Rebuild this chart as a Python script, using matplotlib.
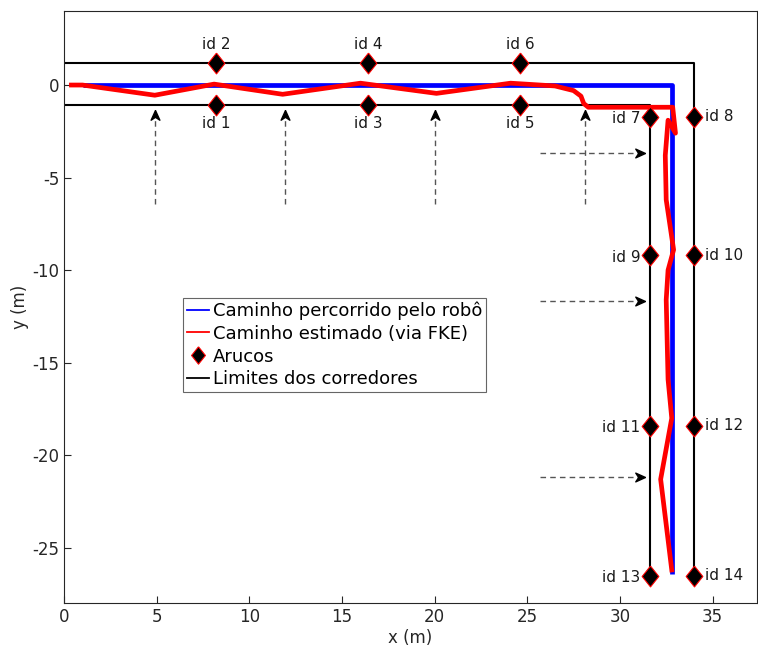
import numpy as np
import matplotlib
matplotlib.use('Agg')
import matplotlib.pyplot as plt
from matplotlib.lines import Line2D

plt.rcParams['font.family'] = ['DejaVu Sans']
plt.rcParams['axes.unicode_minus'] = False

# caminho real (azul)
real_x = [1.0, 32.8, 32.8]
real_y = [0.0, 0.0, -26.4]

# caminho estimado via FKE (vermelho)
est_x = [0.4, 1.0, 4.9, 8.1, 11.8, 16.0, 20.1, 24.1, 26.5, 27.5, 27.9, 28.05, 28.3,
         32.85, 33.0, 32.6, 32.45, 32.5, 32.9, 32.6, 32.5, 32.6, 32.8, 32.2, 32.8]
est_y = [0.0, 0.0, -0.55, 0.05, -0.5, 0.1, -0.45, 0.1, -0.05, -0.3, -0.6, -1.0, -1.2,
         -1.2, -2.6, -1.9, -3.8, -6.2, -8.9, -10.0, -11.6, -15.9, -18.0, -21.3, -26.2]

# limites dos corredores
outer_x = [0, 34.0, 34.0]
outer_y = [1.2, 1.2, -26.5]
inner_x = [0, 31.6, 31.6]
inner_y = [-1.1, -1.1, -26.5]

# arucos
aruco_id = [1, 2, 3, 4, 5, 6, 7, 8, 9, 10, 11, 12, 13, 14]
aruco_x = [8.2, 8.2, 16.4, 16.4, 24.6, 24.6, 31.6, 34.0, 31.6, 34.0, 31.6, 34.0, 31.6, 34.0]
aruco_y = [-1.1, 1.2, -1.1, 1.2, -1.1, 1.2, -1.7, -1.7, -9.2, -9.2, -18.4, -18.4, -26.5, -26.5]

# setas tracejadas
up_x = [4.9, 11.9, 20.0, 28.1]
up_y0, up_y1 = -6.45, -1.35
right_y = [-3.65, -11.65, -21.2]
right_x0, right_x1 = 25.7, 31.35

fig = plt.figure(figsize=(7.58, 6.48), dpi=100)
ax = fig.add_axes([64 / 758, 1 - 603.3 / 648, 693 / 758, 592.3 / 648])

ax.plot(real_x, real_y, color='#0000ff', lw=3.4, solid_capstyle='butt', zorder=3)
ax.plot(est_x, est_y, color='#ff0000', lw=3.4, solid_joinstyle='round', zorder=4)
ax.plot(outer_x, outer_y, color='k', lw=1.5, zorder=2)
ax.plot(inner_x, inner_y, color='k', lw=1.5, zorder=2)

dmd = [(0, 1), (0.8, 0), (0, -1), (-0.8, 0), (0, 1)]
ax.plot(aruco_x, aruco_y, ls='none', marker=dmd, markersize=15,
        markerfacecolor='k', markeredgecolor='#ff0000', markeredgewidth=0.8, zorder=5)

for i, x, y in zip(aruco_id, aruco_x, aruco_y):
    if x < 30:
        if y > 0:
            off, ha, va = (0, 13), 'center', 'center'
        else:
            off, ha, va = (0, -13), 'center', 'center'
    elif x < 33:
        off, ha, va = (-6.5, -1.5), 'right', 'center'
    else:
        off, ha, va = (8, 0), 'left', 'center'
    ax.annotate('id %d' % i, (x, y), xytext=off, textcoords='offset points',
                ha=ha, va=va, fontsize=11, color='#1a1a1a', zorder=6)

head_r = [(0, 0), (-1, 0.45), (-0.7, 0), (-1, -0.45), (0, 0)]
head_u = [(0, 0), (0.45, -1), (0, -0.7), (-0.45, -1), (0, 0)]
for x in up_x:
    ax.plot([x, x], [up_y0, up_y1 - 0.3], color='#555555', lw=1.0, ls=(0, (4, 3)), zorder=2)
    ax.plot([x], [up_y1], ls='none', marker=head_u, markersize=14,
            color='k', zorder=3)
for y in right_y:
    ax.plot([right_x0, right_x1 - 0.3], [y, y], color='#555555', lw=1.0, ls=(0, (4, 3)), zorder=2)
    ax.plot([right_x1], [y], ls='none', marker=head_r, markersize=14,
            color='k', zorder=3)

ax.set_xlim(0, 37.4)
ax.set_ylim(-28, 4)
ax.set_xticks(np.arange(0, 36, 5))
ax.set_yticks(np.arange(-25, 1, 5))
ax.tick_params(direction='in', length=5, width=0.8, labelsize=12, colors='#262626',
               top=False, right=False)
for s in ax.spines.values():
    s.set_color('#262626')
    s.set_linewidth(0.8)
ax.set_xlabel('x (m)', fontsize=12, color='#262626', labelpad=2)
ax.set_ylabel('y (m)', fontsize=12, color='#262626', labelpad=2)

handles = [
    Line2D([], [], color='#0000ff', lw=1.3),
    Line2D([], [], color='#ff0000', lw=1.3),
    Line2D([], [], ls='none', marker=dmd, markersize=12.5, markerfacecolor='k',
           markeredgecolor='#ff0000', markeredgewidth=0.8),
    Line2D([], [], color='k', lw=1.3),
]
labels = ['Caminho percorrido pelo robô', 'Caminho estimado (via FKE)',
          'Arucos', 'Limites dos corredores']
leg = ax.legend(handles, labels, loc='upper left', bbox_to_anchor=(183 / 758, 1 - 298 / 648),
                bbox_transform=fig.transFigure, borderaxespad=0, fontsize=13,
                handlelength=1.25, handletextpad=0.2, labelspacing=0.26, borderpad=0.2,
                fancybox=False, framealpha=1, edgecolor='#666666')
leg.get_frame().set_linewidth(0.8)

fig.savefig('out.png', dpi=100)
